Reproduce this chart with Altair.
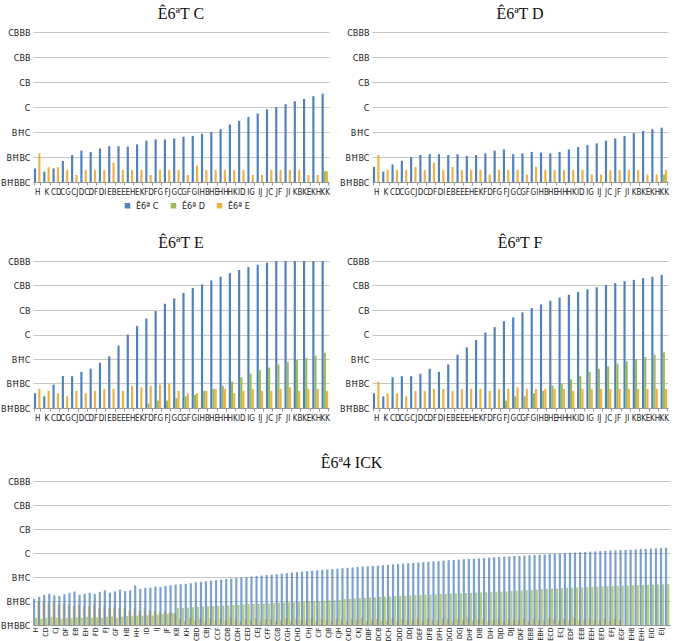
import json
import altair as alt
import pandas as pd

FONT = "Liberation Sans Narrow, DejaVu Sans Condensed, Liberation Serif, serif"
TITLE_FONT = "Liberation Serif, serif"

# series names and colours
SERIES = ["Ê6ª C", "Ê6ª D", "Ê6ª E"]
COLORS = ["#4f81bd", "#9bbb59", "#edb245"]

# y tick values (log scale) and their labels
Y_TICKS = [0.001, 0.01, 0.1, 1, 10, 100, 1000]
Y_TICK_TEXT = ["BĦBBC", "BĦBC", "BĦC", "C", "CB", "CBB", "CBBB"]

# category labels of the four small panels
SMALL_CATS = ["H", "K", "CD", "CG", "CJ", "DC", "DF", "DI", "EB", "EE", "EH", "EK",
              "FD", "FG", "FJ", "GC", "GF", "GI", "HB", "HE", "HH", "HK", "ID", "IG",
              "IJ", "JC", "JF", "JI", "KB", "KE", "KH", "KK"]

# panel 1
p1_blue = [0.0035, 0.0026, 0.0035, 0.0069, 0.012, 0.018, 0.016, 0.022, 0.027, 0.027, 0.026, 0.032,
           0.045, 0.05, 0.05, 0.055, 0.065, 0.07, 0.085, 0.1, 0.13, 0.2, 0.28, 0.4,
           0.55, 0.8, 1.0, 1.3, 1.7, 2.1, 2.7, 3.4]
p1_green = [None] * 31 + [0.0027]
p1_orange = [0.014, 0.0039, 0.0039, 0.003, 0.0019, 0.003, 0.003, 0.003, 0.006, 0.003, 0.003, 0.003,
             0.0019, 0.003, 0.003, 0.003, 0.0019, 0.0045, 0.003, 0.003, 0.003, 0.003, 0.003, 0.0019,
             0.0019, 0.003, 0.003, 0.003, 0.003, 0.0019, 0.0019, 0.0027]

# panel 2
p2_blue = [0.004, 0.0026, 0.005, 0.007, 0.01, 0.012, 0.013, 0.013, 0.012, 0.013, 0.011, 0.012,
           0.014, 0.018, 0.02, 0.013, 0.014, 0.016, 0.015, 0.014, 0.016, 0.02, 0.025, 0.03,
           0.035, 0.045, 0.055, 0.07, 0.09, 0.11, 0.13, 0.15]
p2_green = [None] * 31 + [0.002]
p2_orange = [0.012, 0.003, 0.003, 0.003, 0.004, 0.003, 0.006, 0.003, 0.004, 0.003, 0.003, 0.003,
             0.002, 0.003, 0.003, 0.003, 0.002, 0.004, 0.003, 0.003, 0.003, 0.003, 0.003, 0.002,
             0.002, 0.003, 0.003, 0.003, 0.003, 0.002, 0.002, 0.003]

# panel 3
p3_blue = [0.004, 0.003, 0.009, 0.02, 0.02, 0.03, 0.04, 0.07, 0.13, 0.35, 1.0, 2.2,
           4.5, 9, 18, 30, 50, 80, 110, 160, 230, 320, 430, 560,
           700, 850, 1000, 1000, 1000, 1000, 1000, 1000]
p3_green = [None] * 12 + [0.0015, 0.002, 0.002, 0.0025, 0.003, 0.0035, 0.005, 0.006, 0.008, 0.012,
                          0.018, 0.025, 0.035, 0.045, 0.06, 0.075, 0.09, 0.11, 0.14, 0.18]
p3_orange = [0.006, 0.005, 0.004, 0.003, 0.005, 0.004, 0.005, 0.006, 0.006, 0.005, 0.008, 0.007,
             0.008, 0.009, 0.01, 0.005, 0.004, 0.004, 0.005, 0.006, 0.006, 0.004, 0.005, 0.006,
             0.005, 0.005, 0.006, 0.007, 0.005, 0.006, 0.006, 0.005]

# panel 4
p4_blue = [0.004, 0.003, 0.018, 0.02, 0.02, 0.025, 0.04, 0.03, 0.06, 0.15, 0.3, 0.6,
           1.2, 2, 3.5, 5, 8, 12, 17, 24, 32, 42, 55, 70,
           85, 105, 125, 150, 170, 200, 230, 270]
p4_green = [None] * 14 + [0.002, 0.003, 0.003, 0.004, 0.005, 0.008, 0.01, 0.015, 0.02, 0.03,
                          0.04, 0.05, 0.065, 0.08, 0.1, 0.12, 0.15, 0.19]
p4_orange = [0.012, 0.004, 0.004, 0.003, 0.005, 0.005, 0.006, 0.006, 0.005, 0.006, 0.006, 0.006,
             0.005, 0.006, 0.006, 0.007, 0.006, 0.006, 0.006, 0.006, 0.006, 0.005, 0.006, 0.006,
             0.006, 0.006, 0.006, 0.006, 0.006, 0.006, 0.006, 0.006]

# wide panel: labels shown on every other category
WIDE_LABELS = ["H", "CD", "CJ", "DF", "EB", "EH", "FD", "FJ", "GF", "HB", "HH", "ID", "IJ",
               "JF", "KB", "KH", "CBD", "CBJ", "CCF", "CDB", "CDH", "CED", "CEJ", "CFF",
               "CGB", "CGH", "CHD", "CHJ", "CIF", "CJB", "CJH", "CKD", "CKJ", "DBF", "DCB",
               "DCH", "DDD", "DDJ", "DEF", "DFB", "DFH", "DGD", "DGJ", "DHF", "DIB", "DIH",
               "DJD", "DJJ", "DKF", "EBB", "EBH", "ECD", "ECJ", "EDF", "EEB", "EEH", "EFD",
               "EFJ", "EGF", "EHB", "EHH", "EID", "EIJ"]

w_blue = [0.012, 0.015, 0.018, 0.02, 0.017, 0.016, 0.019, 0.022, 0.025, 0.018, 0.02, 0.022, 0.02,
          0.024, 0.028, 0.022, 0.025, 0.03, 0.026, 0.028, 0.045, 0.032, 0.035,
          0.036, 0.04, 0.038, 0.042, 0.045, 0.048, 0.05, 0.052, 0.055, 0.06,
          0.063, 0.066, 0.07, 0.074, 0.078, 0.082, 0.086, 0.09, 0.095, 0.1,
          0.105, 0.11, 0.115, 0.12, 0.125, 0.13, 0.138, 0.145, 0.152, 0.16,
          0.167, 0.175, 0.183, 0.19, 0.198, 0.206, 0.215, 0.223, 0.232, 0.24,
          0.25, 0.26, 0.27, 0.28, 0.29, 0.3, 0.31, 0.32, 0.335, 0.35,
          0.36, 0.375, 0.39, 0.4, 0.415, 0.43, 0.445, 0.46, 0.48, 0.5,
          0.515, 0.53, 0.55, 0.565, 0.58, 0.6, 0.62, 0.64, 0.66, 0.68,
          0.7, 0.72, 0.74, 0.76, 0.78, 0.8, 0.82, 0.84, 0.87, 0.9,
          0.93, 0.96, 0.99, 1.02, 1.05, 1.08, 1.11, 1.14, 1.17, 1.2,
          1.23, 1.26, 1.29, 1.32, 1.35, 1.38, 1.41, 1.45, 1.49, 1.52, 1.56, 1.6, 1.65]
w_green = [0.002, 0.0018, 0.002, 0.0022, 0.002, 0.0018, 0.002, 0.0019, 0.0021, 0.002, 0.0022, 0.002,
           0.0021, 0.002, 0.0022, 0.0023, 0.002, 0.0022, 0.0024, 0.0023, 0.0025, 0.0024, 0.0026,
           0.0025, 0.0027, 0.0028, 0.003, 0.0032,
           0.005, 0.0052, 0.0054, 0.0055, 0.0057, 0.0058, 0.006, 0.0062, 0.0063, 0.0065, 0.0066,
           0.0068, 0.007, 0.0072, 0.0074, 0.0075, 0.0077, 0.0079, 0.008, 0.0082, 0.0084, 0.0086,
           0.0088, 0.009, 0.0092, 0.0094, 0.0096, 0.0098, 0.01, 0.0103, 0.0106, 0.0108, 0.011,
           0.012, 0.0124, 0.0128, 0.0132, 0.0136, 0.014, 0.0144, 0.0148, 0.0152, 0.0156, 0.016,
           0.0164, 0.0168, 0.0172, 0.0176, 0.018, 0.0184, 0.0188, 0.0192, 0.0196, 0.02, 0.0204,
           0.0208, 0.0212, 0.0216, 0.022, 0.0224, 0.0228, 0.0232, 0.0236, 0.024, 0.0245, 0.025,
           0.026, 0.027, 0.0278, 0.0286, 0.0294, 0.03, 0.031, 0.0318, 0.0326, 0.0334, 0.034,
           0.035, 0.0358, 0.0366, 0.0374, 0.038, 0.039, 0.0398, 0.0406, 0.0414, 0.042, 0.043,
           0.0438, 0.0446, 0.0454, 0.046, 0.047, 0.0478, 0.0486, 0.049, 0.0494, 0.0498, 0.05]
w_orange = [0.01, 0.009, 0.008, 0.009, 0.007, 0.008, 0.007, 0.006, 0.007, 0.006, 0.006, 0.007,
            0.005, 0.006, 0.005, 0.006, 0.005, 0.005, 0.004, 0.005, 0.004, 0.005, 0.004, 0.004,
            0.0035, 0.004, 0.0035, 0.003,
            0.0018, 0.0015, 0.002, 0.0016, 0.0018, 0.0015, 0.0019, 0.0016, 0.0018, 0.0015,
            0.002, 0.0017, 0.0015, 0.0018, 0.0016, 0.0019, 0.0015, 0.0017, 0.0018, 0.0015,
            0.0016, 0.0019, 0.0015, 0.0018, 0.0016, 0.0017, 0.0019, 0.0015, 0.0018, 0.0016,
            0.0015, 0.0019, 0.0017, 0.0015, 0.0018, 0.0016, 0.002, 0.0015, 0.0017, 0.0018,
            0.0015, 0.0016, 0.0019, 0.0015, 0.0018, 0.0016, 0.0017, 0.0019, 0.0015, 0.0018,
            0.0016, 0.0015, 0.0019, 0.0017, 0.0015, 0.0018, 0.0016, 0.002, 0.0015, 0.0017,
            0.0018, 0.0015, 0.0016, 0.0019, 0.0015, 0.0018, 0.0016, 0.0017, 0.0019, 0.0015,
            0.0018, 0.0016, 0.0015, 0.0019, 0.0017, 0.0015, 0.0018, 0.0016, 0.002, 0.0015,
            0.0017, 0.0018, 0.0015, 0.0016, 0.0019, 0.0015, 0.0018, 0.0016]

Y_LABEL_EXPR = " : ".join(
    f"datum.value >= {v * 0.99} ? '{t}'" for v, t in zip(Y_TICKS[::-1], Y_TICK_TEXT[::-1])
) + " : ''"


def long_rows(n, blue, green, orange):
    rows = []
    for i in range(n):
        for s, vals in zip(SERIES, (blue, green, orange)):
            if i < len(vals) and vals[i] is not None:
                rows.append({"idx": i, "series": s, "value": vals[i]})
    return pd.DataFrame(rows)


def y_enc():
    return alt.Y(
        "value:Q",
        scale=alt.Scale(type="log", domain=[0.001, 1000], nice=False, clamp=True),
        axis=alt.Axis(values=Y_TICKS, labelExpr=Y_LABEL_EXPR, title=None, ticks=False,
                      domain=False, grid=True, gridColor="#c6c6c6", labelPadding=3,
                      labelFontSize=9, labelFont=FONT, labelColor="#222"),
    )


def title_params(text):
    return alt.TitleParams(text, font=TITLE_FONT, fontSize=16, fontWeight="normal",
                           offset=6, color="#111")


def small_panel(title, blue, green, orange, w, h):
    df = long_rows(len(SMALL_CATS), blue, green, orange)
    df["cat"] = [SMALL_CATS[i] for i in df["idx"]]
    return alt.Chart(df, title=title_params(title)).mark_bar().encode(
        x=alt.X("cat:N", sort=SMALL_CATS,
                scale=alt.Scale(paddingInner=0.3, paddingOuter=0.1),
                axis=alt.Axis(title=None, labelAngle=0, labelOverlap=False, tickBand="extent",
                              tickSize=3, tickColor="#999", domainColor="#999",
                              labelFontSize=8, labelFont=FONT, labelPadding=3, labelColor="#222")),
        xOffset=alt.XOffset("series:N", sort=SERIES),
        y=y_enc(),
        y2=alt.datum(0.001),
        color=alt.Color("series:N", sort=SERIES,
                        scale=alt.Scale(domain=SERIES, range=COLORS),
                        legend=alt.Legend(title=None, orient="none", direction="horizontal",
                                          legendX=w / 2 - 58, legendY=h + 19,
                                          symbolType="square", symbolSize=30,
                                          labelFontSize=9, labelFont=FONT, columnPadding=10,
                                          symbolStrokeWidth=0, labelColor="#222")),
    ).properties(width=w, height=h)


top = alt.hconcat(
    small_panel("Ê6ªT C", p1_blue, p1_green, p1_orange, 296, 150),
    small_panel("Ê6ªT D", p2_blue, p2_green, p2_orange, 296, 150),
    spacing=9,
)
mid = alt.hconcat(
    small_panel("Ê6ªT E", p3_blue, p3_green, p3_orange, 296, 147),
    small_panel("Ê6ªT F", p4_blue, p4_green, p4_orange, 296, 147),
    spacing=9,
)

n_wide = len(w_blue)
wdf = long_rows(n_wide, w_blue, w_green, w_orange)
wide_label_expr = f"datum.value % 2 == 0 ? {json.dumps(WIDE_LABELS, ensure_ascii=False)}[datum.value / 2] : ''"

wide = alt.Chart(wdf, title=title_params("Ê6ª4 ICK")).mark_bar().encode(
    x=alt.X("idx:O", scale=alt.Scale(paddingInner=0, paddingOuter=0),
            axis=alt.Axis(title=None, labelAngle=-90, labelOverlap=False, labelExpr=wide_label_expr,
                          values=list(range(0, n_wide, 2)), ticks=False, domainColor="#999",
                          labelFontSize=7, labelFont=FONT, labelPadding=2, labelColor="#222")),
    xOffset=alt.XOffset("series:N", sort=SERIES),
    y=y_enc(),
    y2=alt.datum(0.001),
    color=alt.Color("series:N", sort=SERIES, scale=alt.Scale(domain=SERIES, range=COLORS),
                    legend=None),
    opacity=alt.value(0.75),
).properties(width=637, height=144)

chart = alt.vconcat(
    alt.vconcat(top, mid, spacing=39), wide, spacing=33
).resolve_scale(color="independent").configure_view(
    stroke=None
).properties(padding={"left": 0, "top": 6, "right": 2, "bottom": 0})

chart.save("out.html", embed_options={"renderer": "svg", "actions": False})
